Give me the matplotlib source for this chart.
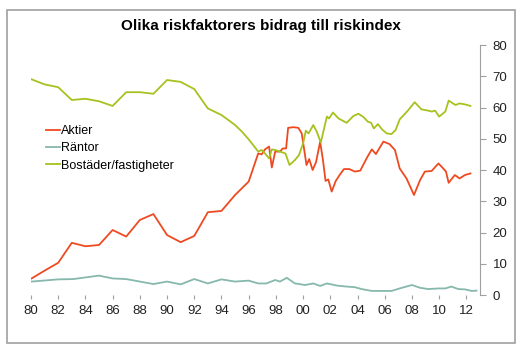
import matplotlib.pyplot as plt
from matplotlib.patches import Rectangle

# Aktier
aktier_x = [1980.05, 1981.0, 1982.0, 1983.0, 1984.0, 1985.0, 1986.0, 1987.0, 1988.0, 1989.0,
            1990.0, 1991.0, 1992.0, 1993.0, 1994.0, 1995.0, 1996.0, 1996.7, 1996.95, 1997.2,
            1997.5, 1997.7, 1997.95, 1998.3, 1998.5, 1998.75, 1998.9, 1999.3, 1999.65, 1999.9,
            2000.25, 2000.45, 2000.7, 2000.95, 2001.25, 2001.45, 2001.65, 2001.85, 2002.1, 2002.4,
            2002.7, 2003.0, 2003.4, 2003.8, 2004.2, 2004.7, 2005.05, 2005.35, 2005.9, 2006.35,
            2006.75, 2007.1, 2007.6, 2008.15, 2008.6, 2008.95, 2009.45, 2009.95, 2010.3, 2010.5,
            2010.7, 2011.15, 2011.5, 2011.9, 2012.3]
aktier_y = [5.3, 7.8, 10.3, 16.7, 15.6, 16.0, 20.8, 18.7, 24.0, 25.9,
            19.2, 16.9, 18.9, 26.5, 26.9, 32.0, 36.3, 45.3, 45.0, 46.6,
            47.5, 40.8, 45.9, 45.9, 46.9, 46.9, 53.5, 53.7, 53.5, 51.7,
            41.6, 43.5, 40.0, 42.5, 49.0, 43.5, 36.5, 37.0, 33.1, 36.5,
            38.5, 40.3, 40.3, 39.5, 39.8, 44.0, 46.6, 45.1, 49.1, 48.3,
            46.4, 40.5, 37.3, 32.0, 36.8, 39.5, 39.7, 42.1, 40.5, 39.5,
            35.9, 38.4, 37.3, 38.4, 38.9]

# Räntor
rantor_x = [1980.05, 1982.0, 1983.1, 1985.0, 1986.0, 1987.0, 1988.0, 1989.0, 1990.0, 1991.0,
            1992.0, 1993.0, 1994.0, 1995.0, 1996.0, 1996.7, 1997.3, 1997.95, 1998.3, 1998.8,
            1999.4, 2000.15, 2000.75, 2001.25, 2001.75, 2002.5, 2003.2, 2003.8, 2004.3, 2005.05,
            2005.8, 2006.5, 2007.1, 2008.0, 2008.6, 2009.2, 2009.95, 2010.45, 2010.9, 2011.4,
            2011.9, 2012.4, 2012.75]
rantor_y = [4.3, 5.0, 5.1, 6.2, 5.3, 5.1, 4.3, 3.5, 4.3, 3.4,
            5.1, 3.7, 5.0, 4.3, 4.6, 3.7, 3.7, 4.8, 4.3, 5.5,
            3.7, 3.2, 3.7, 2.9, 3.7, 3.0, 2.7, 2.5, 1.9, 1.3,
            1.3, 1.3, 2.1, 3.2, 2.3, 1.9, 2.1, 2.1, 2.7, 1.9,
            1.8, 1.3, 1.4]

# Bostäder/fastigheter
bostader_x = [1980.05, 1981.0, 1982.0, 1983.0, 1984.0, 1985.0, 1986.0, 1987.0, 1988.0, 1989.0,
              1990.0, 1991.0, 1992.0, 1993.0, 1994.0, 1995.0, 1995.5, 1996.0, 1996.4, 1996.7,
              1996.95, 1997.2, 1997.5, 1997.7, 1997.95, 1998.3, 1998.7, 1999.0, 1999.4, 1999.7,
              2000.0, 2000.2, 2000.4, 2000.75, 2001.0, 2001.3, 2001.75, 2001.9, 2002.2, 2002.6,
              2003.2, 2003.7, 2004.07, 2004.45, 2004.75, 2005.0, 2005.2, 2005.5, 2005.8, 2006.15,
              2006.5, 2006.8, 2007.1, 2007.7, 2008.2, 2008.7, 2009.2, 2009.45, 2009.7, 2010.0,
              2010.45, 2010.7, 2011.2, 2011.5, 2011.9, 2012.3]
bostader_y = [69.0, 67.4, 66.5, 62.4, 62.8, 62.0, 60.5, 64.9, 64.9, 64.4,
              68.8, 68.2, 65.9, 59.7, 57.6, 54.4, 52.3, 49.8, 47.6, 45.9,
              46.4, 45.3, 43.7, 46.6, 46.4, 45.9, 45.3, 41.6, 43.2, 44.8,
              48.5, 52.6, 51.7, 54.4, 52.3, 48.8, 57.1, 56.5, 58.4, 56.5,
              55.1, 57.3, 58.0, 56.9, 55.5, 55.1, 53.3, 54.7, 53.0, 51.7,
              51.5, 52.8, 56.2, 59.0, 61.7, 59.4, 59.0, 58.7, 59.0, 57.1,
              58.7, 62.2, 60.8, 61.3, 61.0, 60.5]

tick_years = list(range(1980, 2013, 2))
tick_labels = [f"{y % 100:02d}" for y in tick_years]

plt.rcParams["font.family"] = ["Liberation Sans", "DejaVu Sans"]

fig = plt.figure(figsize=(5.26, 3.53), dpi=100)
ax = fig.add_axes([0.0589, 0.1643, 0.8536, 0.7082])

ax.plot(aktier_x, aktier_y, color="#EE4A22", lw=1.3, label="Aktier")
ax.plot(rantor_x, rantor_y, color="#86B8AC", lw=1.3, label="Räntor")
ax.plot(bostader_x, bostader_y, color="#A6C21E", lw=1.3, label="Bostäder/fastigheter")

ax.set_xlim(1980, 2013)
ax.set_ylim(0, 80)

ax.yaxis.tick_right()
ax.set_yticks(range(0, 81, 10))
ax.set_xticks(tick_years)
ax.set_xticklabels(tick_labels)

for side in ["left", "top", "bottom"]:
    ax.spines[side].set_visible(False)
ax.spines["right"].set_color("#A0A0A0")

ax.tick_params(axis="y", colors="#A0A0A0", labelcolor="#222222", labelsize=9.5,
               length=4, pad=5)
ax.tick_params(axis="x", colors="#A0A0A0", labelcolor="#222222", labelsize=9.5,
               length=3, pad=4)

ax.legend(loc="upper left", bbox_to_anchor=(0.033, 0.68), frameon=False,
          handlelength=1.1, handletextpad=0.1, labelspacing=0.42,
          borderpad=0, borderaxespad=0, fontsize=9)

fig.text(0.496, 0.925, "Olika riskfaktorers bidrag till riskindex",
         ha="center", va="center", fontsize=11, fontweight="bold")

# outer frame
fig.patches.append(Rectangle((7 / 526, 10 / 353), 508 / 526, 333 / 353,
                             transform=fig.transFigure, fill=False,
                             edgecolor="#A0A0A0", lw=1.2))

fig.savefig("out.png", dpi=100)
